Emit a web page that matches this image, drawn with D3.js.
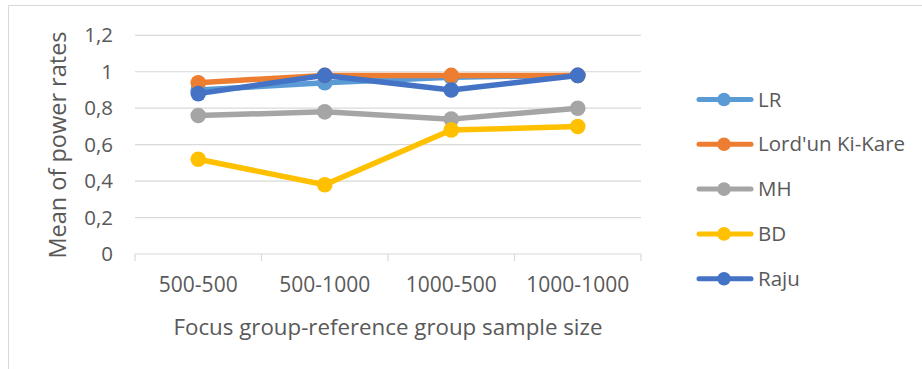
<!DOCTYPE html>
<html><head><meta charset="utf-8">
<script src="https://cdn.jsdelivr.net/npm/d3@7"></script>
<style>body{margin:0;background:#fff}svg{display:block}text{font-family:"Open Sans","Noto Sans",sans-serif;fill:#595959}</style>
</head><body><svg id="c" width="922" height="369"></svg>
<script>
const categories = ["500-500", "500-1000", "1000-500", "1000-1000"];
const seriesNames = ["LR", "Lord'un Ki-Kare", "MH", "BD", "Raju"];
const colors = ["#5B9BD5", "#ED7D31", "#A5A5A5", "#FFC000", "#4472C4"];
const valuesLR = [0.90, 0.94, 0.97, 0.98];
const valuesLord = [0.94, 0.98, 0.98, 0.98];
const valuesMH = [0.76, 0.78, 0.74, 0.80];
const valuesBD = [0.52, 0.38, 0.68, 0.70];
const valuesRaju = [0.88, 0.98, 0.90, 0.98];
const yTicks = [0, 0.2, 0.4, 0.6, 0.8, 1, 1.2];
const seriesValues = [valuesLR, valuesLord, valuesMH, valuesBD, valuesRaju];

const svg = d3.select("#c");
svg.append("rect").attr("x", 8.5).attr("y", 5.5).attr("width", 1000).attr("height", 1000)
  .attr("fill", "none").attr("stroke", "#d9d9d9");

const x0 = 135, x1 = 641, yTop = 35.3, yBot = 254;
const x = d3.scaleBand().domain(categories).range([x0, x1]);
const y = d3.scaleLinear().domain([0, 1.2]).range([yBot, yTop]);
const fmt = d => d3.format(".1~f")(d).replace(".", ",");

svg.append("g").selectAll("line").data(yTicks.filter(d => d > 0)).join("line")
  .attr("x1", x0).attr("x2", x1).attr("y1", d => y(d)).attr("y2", d => y(d))
  .attr("stroke", "#d9d9d9").attr("stroke-width", 1.2);

svg.append("g").selectAll("text").data(yTicks).join("text")
  .attr("x", 113).attr("y", d => y(d)).attr("dy", "0.35em").attr("text-anchor", "end")
  .attr("font-size", 20.5).text(fmt);

const xa = svg.append("g").attr("transform", `translate(0,${yBot})`)
  .call(d3.axisBottom(x).tickSize(0).tickFormat(d => d));
xa.select(".domain").remove();
xa.selectAll("text").attr("font-size", 21).attr("dy", "0.35em").attr("y", 31).style("fill", "#595959")
  .attr("font-family", "'Open Sans','Noto Sans',sans-serif");
const bounds = categories.map(c => x(c)).concat([x1]);
const axg = svg.append("g").attr("stroke", "#d9d9d9").attr("stroke-width", 1.2);
axg.append("line").attr("x1", x0).attr("x2", x1).attr("y1", yBot).attr("y2", yBot);
axg.selectAll("line.t").data(bounds).join("line").attr("class", "t")
  .attr("x1", d => d).attr("x2", d => d).attr("y1", yBot).attr("y2", yBot + 7);

svg.append("text").attr("x", 388).attr("y", 327).attr("dy", "0.35em").attr("text-anchor", "middle")
  .attr("font-size", 22.3).text("Focus group-reference group sample size");
svg.append("text").attr("transform", "translate(58,145) rotate(-90)").attr("dy", "0.35em").attr("text-anchor", "middle")
  .attr("font-size", 23.5).text("Mean of power rates");

const line = d3.line().x((d, i) => x(categories[i]) + x.bandwidth() / 2).y(d => y(d));
seriesValues.forEach((vals, si) => {
  const g = svg.append("g");
  g.append("path").attr("d", line(vals)).attr("fill", "none").attr("stroke", colors[si])
    .attr("stroke-width", 5.5).attr("stroke-linejoin", "round").attr("stroke-linecap", "round");
  g.selectAll("circle").data(vals).join("circle")
    .attr("cx", (d, i) => x(categories[i]) + x.bandwidth() / 2).attr("cy", d => y(d))
    .attr("r", 7.8).attr("fill", colors[si]);
});

const lg = svg.append("g");
seriesNames.forEach((n, i) => {
  const ly = 99.5 + i * 44.8;
  lg.append("line").attr("x1", 699).attr("x2", 751).attr("y1", ly).attr("y2", ly)
    .attr("stroke", colors[i]).attr("stroke-width", 5).attr("stroke-linecap", "round");
  lg.append("circle").attr("cx", 724).attr("cy", ly).attr("r", 6.8).attr("fill", colors[i]);
  lg.append("text").attr("x", 758).attr("y", ly).attr("dy", "0.35em").attr("font-size", 20.5).text(n);
});
</script></body></html>
